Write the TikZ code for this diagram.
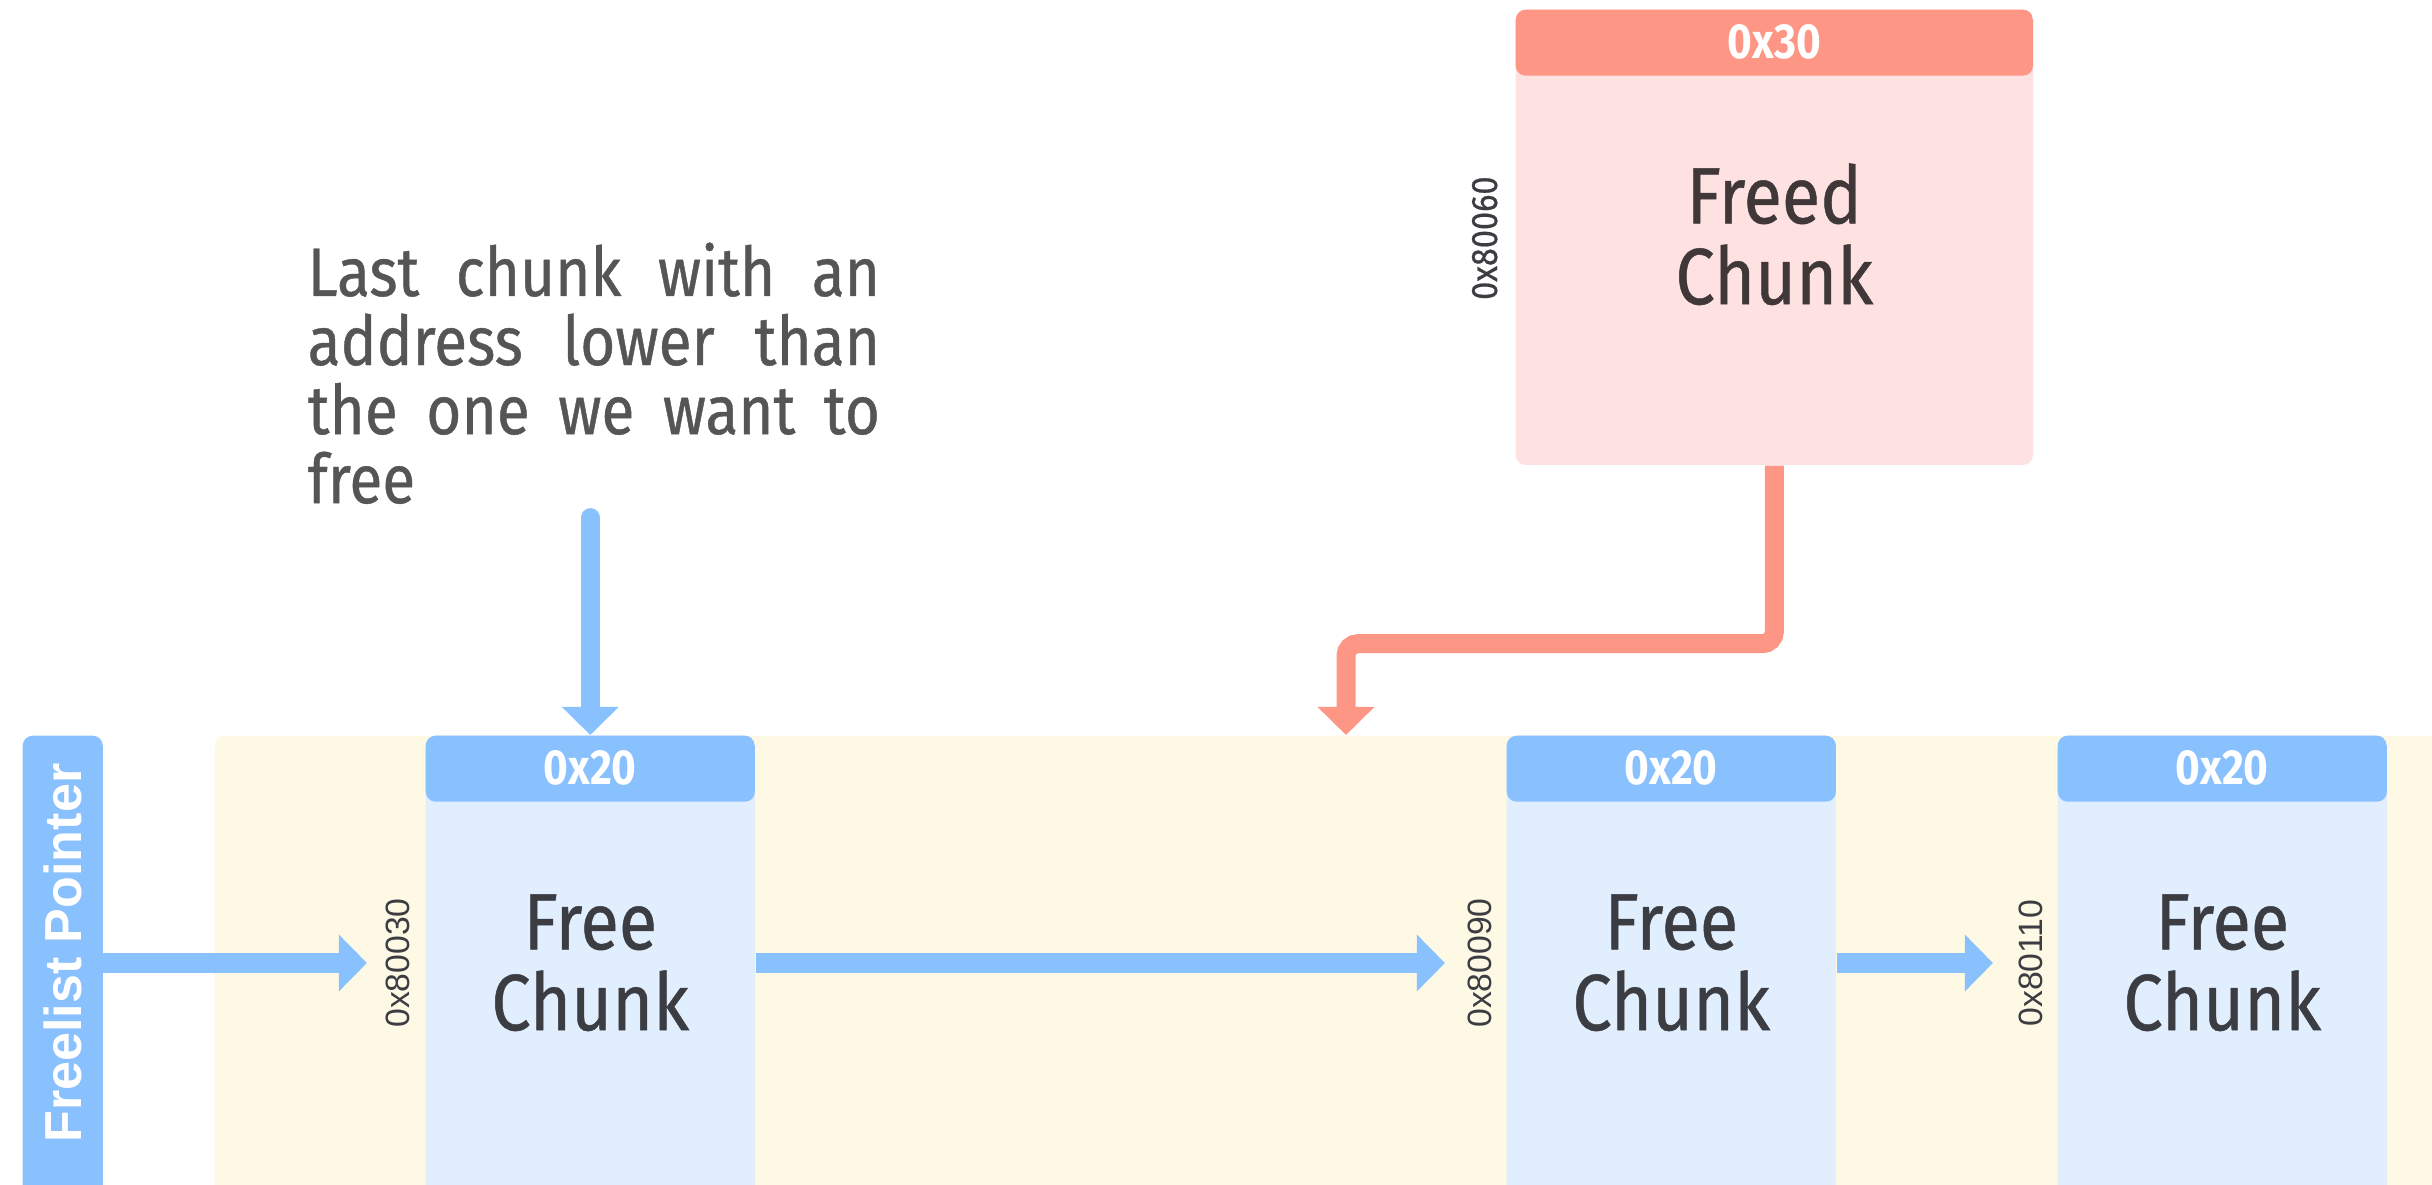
\documentclass[tikz,border=0pt]{standalone}
\usepackage{fontspec}
\usetikzlibrary{arrows.meta}
\newfontfamily\dinfont[FakeStretch=0.88, FakeBold=0.6]{Fira Sans}
\newfontfamily\dinbold[FakeStretch=0.86]{Fira Sans Bold}
\newfontfamily\arialfont{Liberation Sans}
\definecolor{hdrblue}{RGB}{137,192,254}
\definecolor{bodyblue}{RGB}{224,238,254}
\definecolor{heapyellow}{RGB}{254,249,228}
\definecolor{salmon}{RGB}{254,150,134}
\definecolor{pinkbody}{RGB}{254,226,226}
\definecolor{inkdark}{RGB}{59,61,66}
\definecolor{inkwarm}{RGB}{64,56,56}
\definecolor{inkgrey}{RGB}{85,85,85}
\begin{document}
\begin{tikzpicture}[x=0.01cm, y=-0.01cm,
  heap/.style={fill=heapyellow, rounded corners=0.1cm, minimum width=22.5cm,
    minimum height=4.8cm, anchor=north west, inner sep=0},
  ptrbar/.style={fill=hdrblue, rounded corners=0.1cm, minimum width=0.8cm,
    minimum height=4.8cm, anchor=north west, inner sep=0},
  chunkbox/.style 2 args={fill=#2, rounded corners=0.1cm, anchor=north west, inner sep=0,
    path picture={\fill[#1] (path picture bounding box.north west) rectangle
      ([yshift=-0.66cm]path picture bounding box.north east);}},
  freechunk/.style={chunkbox={hdrblue}{bodyblue}, minimum width=3.29cm, minimum height=4.8cm},
  freedchunk/.style={chunkbox={salmon}{pinkbody}, minimum width=5.17cm, minimum height=4.55cm},
  hdrtxt/.style={text=white, font=\dinbold\fontsize{14}{15}\selectfont, inner sep=0},
  bodytxt/.style={text=inkdark, font=\dinfont\fontsize{22.7}{23}\selectfont, align=center,
    inner sep=0, anchor=base},
  addr/.style={text=inkdark, font=\arialfont\fontsize{9.6}{10}\selectfont, rotate=90,
    anchor=base, inner sep=0},
  note/.style={text=inkgrey, font=\dinfont\fontsize{19.5}{19.63}\selectfont, text width=5.72cm,
    align=justify, anchor=base west, inner sep=0},
  ptr/.style={line width=0.19cm, draw=hdrblue, -{Triangle[length=0.28cm,width=0.55cm]}},
  insertptr/.style={line width=0.19cm, draw=salmon, rounded corners=0.12cm,
    -{Triangle[length=0.28cm,width=0.55cm]}}
]
\useasboundingbox (0,0) rectangle (2432,1185);
\clip (0,0) rectangle (2432,1185);

% heap area and the freelist head
\node[heap] (heap) at (214,735) {};
\node[ptrbar] (bar) at (22,735) {};
\node[text=white, font=\arialfont\bfseries\fontsize{14.8}{16}\selectfont, rotate=90, inner sep=0]
  (barlbl) at ([yshift=-2.18cm]bar.north) {Freelist Pointer};

% chunks on the freelist
\node[freechunk] (c1) at (425,735) {};
\node[freechunk] (c2) at (1506,735) {};
\node[freechunk] (c3) at (2057,735) {};
\foreach \c in {c1, c2, c3} {
  \node[hdrtxt] (\c h) at ([yshift=-0.33cm]\c.north) {0x20};
  \node[bodytxt] (\c t) at ([yshift=-2.95cm]\c.north) {Free\\Chunk};
}
\coordinate (lvl) at (0,963);
\node[addr] (a1) at ([xshift=-0.15cm]c1.west |- lvl) {0x80030};
\node[addr] (a2) at ([xshift=-0.15cm]c2.west |- lvl) {0x80090};
\node[addr] (a3) at ([xshift=-0.15cm]c3.west |- lvl) {0x80110};

% chunk being freed
\node[freedchunk] (fc) at (1515,9) {};
\node[hdrtxt] (fch) at ([yshift=-0.33cm]fc.north) {0x30};
\node[bodytxt, text=inkwarm] (fct) at ([yshift=-2.95cm]fc.north) {Freed\\Chunk};
\node[addr, font=\dinfont\fontsize{10.5}{11}\selectfont] (fca) at ([xshift=-0.18cm, yshift=-2.29cm]fc.north west) {0x80060};

% annotation
\node[note] (annot) at (307,296) {Last chunk with an\linebreak address lower than\linebreak the one we want to\linebreak free};

% links
\draw[ptr] (bar.east |- lvl) -- ([xshift=-0.58cm]c1.west |- lvl);
\draw[ptr] (c1.east |- lvl) -- ([xshift=-0.61cm]c2.west |- lvl);
\draw[ptr] (c2.east |- lvl) -- ([xshift=-0.64cm]c3.west |- lvl);
\draw[ptr, line cap=round] ([yshift=-0.13cm]c1.north |- annot.south) -- (c1.north);
\coordinate (slot) at (1346,735);
\draw[insertptr] (fc.south) -- ++(0,178) -| (slot);
\end{tikzpicture}
\end{document}
